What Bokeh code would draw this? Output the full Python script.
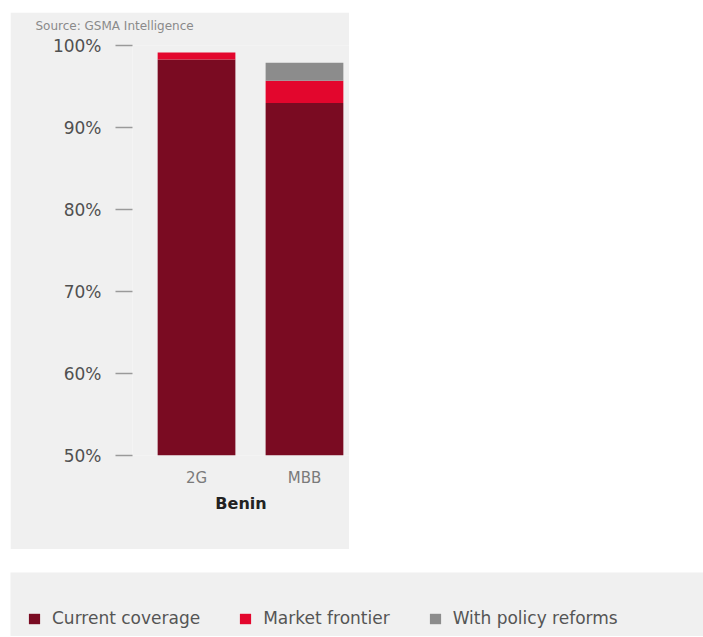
from bokeh.plotting import figure
from bokeh.models import ColumnDataSource, Range1d, FixedTicker, Legend, LegendItem, Title
from bokeh.layouts import column
from bokeh.embed import file_html
from bokeh.resources import INLINE

# ---- data ----
categories = ["2G", "MBB"]
country = "Benin"
current_coverage = [98.3, 93.0]
market_frontier = [0.85, 2.7]
policy_reforms = [0.0, 2.2]
series_names = ["Current coverage", "Market frontier", "With policy reforms"]
series_colors = ["#7a0b22", "#e3062d", "#8c8c8c"]
y_ticks = [50, 60, 70, 80, 90, 100]
y_tick_labels = ["50%", "60%", "70%", "80%", "90%", "100%"]
source_note = "Source: GSMA Intelligence"

BG = "#f0f0f0"
FONT = "DejaVu Sans"

xs = list(range(len(categories)))
src = ColumnDataSource(dict(x=xs, cur=current_coverage, mkt=market_frontier, pol=policy_reforms))
stack_cols = ["cur", "mkt", "pol"]

p = figure(width=339, height=537, output_backend="svg", toolbar_location=None,
           x_range=Range1d(-0.593, 1.417), y_range=Range1d(50, 100),
           min_border_left=122, min_border_right=0, min_border_top=33, min_border_bottom=94,
           background_fill_color=BG, border_fill_color=BG, outline_line_color=None,
           margin=(12, 0, 0, 10), frame_align=False, title=None)

p.vbar_stack(stack_cols, x="x", width=0.72, source=src,
             color=series_colors, line_color=None)

# spacer title (nearest the frame), then the source note above it
p.add_layout(Title(text=" ", text_font_size="1px", standoff=7), "above")
p.add_layout(Title(text=source_note, text_font=FONT, text_font_size="12px",
                   text_font_style="normal", text_color="#8a8a8a",
                   align="left", offset=-97, standoff=6), "above")

p.xgrid.visible = False
p.ygrid.visible = False

ya = p.yaxis[0]
ya.ticker = FixedTicker(ticks=y_ticks)
ya.major_label_overrides = {t: l for t, l in zip(y_ticks, y_tick_labels)}
ya.axis_line_color = None
ya.major_tick_out = 17
ya.major_tick_in = 0
ya.major_tick_line_color = "#9a9a9a"
ya.major_tick_line_width = 1.6
ya.minor_tick_line_color = None
ya.major_label_standoff = 14
ya.major_label_text_font = FONT
ya.major_label_text_font_size = "17px"
ya.major_label_text_color = "#505050"

xa = p.xaxis[0]
xa.ticker = FixedTicker(ticks=xs)
xa.major_label_overrides = {x: c for x, c in zip(xs, categories)}
xa.axis_line_color = None
xa.major_tick_line_color = None
xa.minor_tick_line_color = None
xa.major_label_standoff = 7
xa.major_label_text_font = FONT
xa.major_label_text_font_size = "15px"
xa.major_label_text_color = "#7a7a7a"
xa.axis_label = country
xa.axis_label_text_font = FONT
xa.axis_label_text_font_size = "16px"
xa.axis_label_text_font_style = "bold"
xa.axis_label_text_color = "#222222"
xa.axis_label_standoff = 4

# ---- legend panel (same series, drawn far outside its visible ranges) ----
lg = figure(width=693, height=64, output_backend="svg", toolbar_location=None,
            x_range=Range1d(100, 101), y_range=Range1d(1000, 1001),
            min_border=0, background_fill_color=BG, border_fill_color=BG,
            outline_line_color=None, margin=(23, 0, 0, 10), frame_align=False)
lg.axis.visible = False
lg.grid.visible = False
rs = lg.vbar_stack(stack_cols, x="x", width=0.72, source=src,
                   color=series_colors, line_color=None)
items = [LegendItem(label=name, renderers=[r]) for name, r in zip(series_names, rs)]
leg = Legend(items=items, orientation="horizontal", location=(17, 8),
             background_fill_alpha=0, border_line_color=None,
             glyph_width=14, glyph_height=13, label_standoff=11, spacing=38,
             padding=0, margin=0,
             label_text_font=FONT, label_text_font_size="17px", label_text_color="#555555")
lg.add_layout(leg, "center")

layout = column(p, lg, spacing=0)
open("out.html", "w").write(file_html(layout, INLINE))
